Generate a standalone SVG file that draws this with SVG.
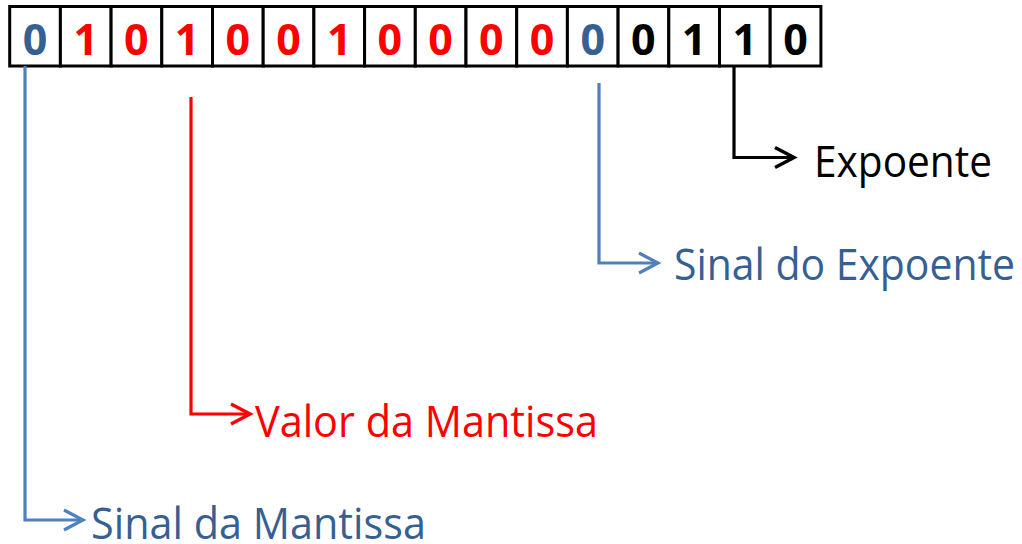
<svg xmlns="http://www.w3.org/2000/svg" width="1022" height="544" viewBox="0 0 1022 544">
  <style>
    .cell { fill: #ffffff; stroke: #000000; stroke-width: 3; }
    .bit { font-family: "Open Sans", "Liberation Sans", sans-serif; font-weight: 700; font-size: 43px; text-anchor: middle; }
    .b { fill: #376092; }
    .r { fill: #FF0000; }
    .k { fill: #000000; }
    .lbl { font-family: "Open Sans", "Liberation Sans", sans-serif; font-size: 43px; }
    .conn { fill: none; stroke-width: 3.2; stroke-linejoin: miter; }
  </style>
  <defs>
    <marker id="arrB" markerUnits="userSpaceOnUse" viewBox="-24 -14 28 28" refX="0" refY="0" markerWidth="28" markerHeight="28" orient="auto">
      <path d="M-19,-10 L0,0 L-19,10" fill="none" stroke="#4F81BD" stroke-width="3.2"/>
    </marker>
    <marker id="arrR" markerUnits="userSpaceOnUse" viewBox="-24 -14 28 28" refX="0" refY="0" markerWidth="28" markerHeight="28" orient="auto">
      <path d="M-19,-10 L0,0 L-19,10" fill="none" stroke="#FF0000" stroke-width="3.5"/>
    </marker>
    <marker id="arrK" markerUnits="userSpaceOnUse" viewBox="-24 -14 28 28" refX="0" refY="0" markerWidth="28" markerHeight="28" orient="auto">
      <path d="M-19,-10 L0,0 L-19,10" fill="none" stroke="#000000" stroke-width="3.5"/>
    </marker>
  </defs>

  <g id="register">
    <rect class="cell" x="9.7" y="6.5" width="50.7" height="59.5"/>
    <rect class="cell" x="60.4" y="6.5" width="50.7" height="59.5"/>
    <rect class="cell" x="111.1" y="6.5" width="50.7" height="59.5"/>
    <rect class="cell" x="161.8" y="6.5" width="50.7" height="59.5"/>
    <rect class="cell" x="212.5" y="6.5" width="50.7" height="59.5"/>
    <rect class="cell" x="263.2" y="6.5" width="50.7" height="59.5"/>
    <rect class="cell" x="313.9" y="6.5" width="50.7" height="59.5"/>
    <rect class="cell" x="364.6" y="6.5" width="50.7" height="59.5"/>
    <rect class="cell" x="415.3" y="6.5" width="50.7" height="59.5"/>
    <rect class="cell" x="466.0" y="6.5" width="50.7" height="59.5"/>
    <rect class="cell" x="516.7" y="6.5" width="50.7" height="59.5"/>
    <rect class="cell" x="567.4" y="6.5" width="50.7" height="59.5"/>
    <rect class="cell" x="618.1" y="6.5" width="50.7" height="59.5"/>
    <rect class="cell" x="668.8" y="6.5" width="50.7" height="59.5"/>
    <rect class="cell" x="719.5" y="6.5" width="50.7" height="59.5"/>
    <rect class="cell" x="770.2" y="6.5" width="50.7" height="59.5"/>
    <text class="bit b" x="35.0" y="55">0</text>
    <text class="bit r" x="85.7" y="55">1</text>
    <text class="bit r" x="136.4" y="55">0</text>
    <text class="bit r" x="187.1" y="55">1</text>
    <text class="bit r" x="237.8" y="55">0</text>
    <text class="bit r" x="288.5" y="55">0</text>
    <text class="bit r" x="339.2" y="55">1</text>
    <text class="bit r" x="389.9" y="55">0</text>
    <text class="bit r" x="440.6" y="55">0</text>
    <text class="bit r" x="491.3" y="55">0</text>
    <text class="bit r" x="542.0" y="55">0</text>
    <text class="bit b" x="592.7" y="55">0</text>
    <text class="bit k" x="643.4" y="55">0</text>
    <text class="bit k" x="694.1" y="55">1</text>
    <text class="bit k" x="744.8" y="55">1</text>
    <text class="bit k" x="795.5" y="55">0</text>
  </g>

  <g id="connectors">
    <path class="conn" stroke="#4F81BD" d="M25,66 V520 H83" marker-end="url(#arrB)"/>
    <path class="conn" stroke="#FF0000" stroke-width="3.5" d="M191,97 V414 H250" marker-end="url(#arrR)"/>
    <path class="conn" stroke="#4F81BD" d="M599,83 V263 H658" marker-end="url(#arrB)"/>
    <path class="conn" stroke="#000000" stroke-width="3.5" d="M734,66 V157.5 H794" marker-end="url(#arrK)"/>
  </g>

  <g id="label-sinal-mantissa">
    <text class="lbl b" x="91" y="539" textLength="335" lengthAdjust="spacingAndGlyphs">Sinal da Mantissa</text>
  </g>
  <g id="label-valor-mantissa">
    <text class="lbl r" x="255" y="437" textLength="343" lengthAdjust="spacingAndGlyphs">Valor da Mantissa</text>
  </g>
  <g id="label-sinal-expoente">
    <text class="lbl b" x="674" y="280" textLength="341" lengthAdjust="spacingAndGlyphs">Sinal do Expoente</text>
  </g>
  <g id="label-expoente">
    <text class="lbl k" x="814" y="177" textLength="178" lengthAdjust="spacingAndGlyphs">Expoente</text>
  </g>
</svg>
